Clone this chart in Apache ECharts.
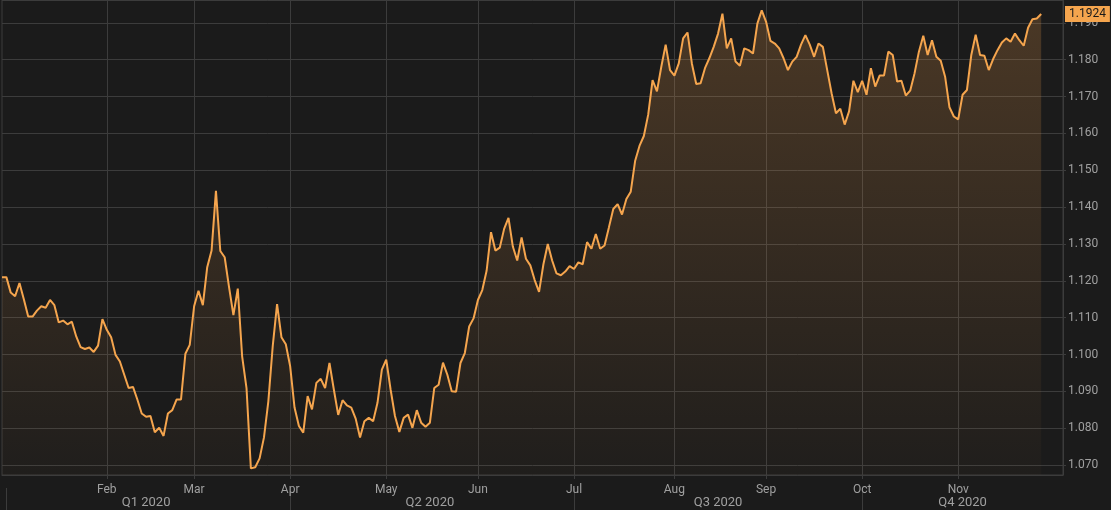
<!DOCTYPE html>
<html>
<head>
<meta charset="utf-8">
<script src="https://cdn.jsdelivr.net/npm/echarts@6/dist/echarts.min.js"></script>
<style>
html,body{margin:0;padding:0;background:#1b1b1b;}
#chart{width:1111px;height:510px;}
</style>
</head>
<body>
<div id="chart"></div>
<script>
// Daily (weekday) EUR/USD-style closes, 2019-12-31 .. 2020-11-27
const values = [
1.1210,1.1210,1.1168,1.1158,1.1194,1.1150,1.1103,1.1103,1.1119,1.1131,
1.1127,1.1148,1.1134,1.1087,1.1092,1.1082,1.1089,1.1049,1.1020,1.1015,
1.1019,1.1007,1.1024,1.1096,1.1067,1.1047,1.0999,1.0981,1.0945,1.0909,
1.0912,1.0878,1.0840,1.0831,1.0833,1.0789,1.0801,1.0779,1.0840,1.0849,
1.0878,1.0878,1.1002,1.1026,1.1131,1.1173,1.1134,1.1237,1.1282,1.1444,
1.1281,1.1264,1.1183,1.1107,1.1179,1.0995,1.0909,1.0691,1.0694,1.0718,
1.0775,1.0873,1.1022,1.1137,1.1047,1.1028,1.0968,1.0856,1.0806,1.0788,
1.0887,1.0851,1.0923,1.0934,1.0909,1.0977,1.0905,1.0836,1.0876,1.0862,
1.0856,1.0826,1.0775,1.0819,1.0828,1.0819,1.0869,1.0959,1.0986,1.0905,
1.0833,1.0790,1.0828,1.0837,1.0801,1.0849,1.0815,1.0804,1.0815,1.0909,
1.0918,1.0978,1.0945,1.0900,1.0899,1.0977,1.1004,1.1076,1.1098,1.1148,
1.1175,1.1228,1.1332,1.1282,1.1290,1.1341,1.1371,1.1293,1.1255,1.1318,
1.1260,1.1242,1.1202,1.1170,1.1245,1.1300,1.1255,1.1220,1.1215,1.1225,
1.1240,1.1232,1.1250,1.1245,1.1305,1.1287,1.1327,1.1287,1.1296,1.1345,
1.1395,1.1408,1.1380,1.1422,1.1442,1.1525,1.1566,1.1593,1.1651,1.1745,
1.1714,1.1781,1.1841,1.1772,1.1757,1.1790,1.1858,1.1874,1.1790,1.1734,
1.1736,1.1777,1.1804,1.1835,1.1871,1.1925,1.1831,1.1858,1.1795,1.1784,
1.1831,1.1826,1.1817,1.1898,1.1934,1.1903,1.1851,1.1844,1.1831,1.1804,
1.1772,1.1795,1.1808,1.1841,1.1867,1.1841,1.1808,1.1844,1.1835,1.1772,
1.1709,1.1655,1.1667,1.1624,1.1660,1.1743,1.1712,1.1743,1.1705,1.1777,
1.1727,1.1757,1.1757,1.1822,1.1813,1.1741,1.1743,1.1703,1.1716,1.1763,
1.1822,1.1865,1.1813,1.1853,1.1808,1.1797,1.1754,1.1671,1.1646,1.1638,
1.1705,1.1718,1.1813,1.1868,1.1813,1.1811,1.1772,1.1802,1.1826,1.1847,
1.1858,1.1849,1.1871,1.1853,1.1838,1.1887,1.1910,1.1912,1.1924
];

// Category axis: weekday (trading-day) dates spanning the visible window
const axisStart = [2019, 11, 31];
const axisEnd = [2020, 11, 4];
const categories = [];
for (let t = Date.UTC(...axisStart); t <= Date.UTC(...axisEnd); t += 86400000) {
  const d = new Date(t);
  const wd = d.getUTCDay();
  if (wd === 0 || wd === 6) continue;
  categories.push(d.toISOString().slice(0, 10));
}

const monthNames = ['Jan','Feb','Mar','Apr','May','Jun','Jul','Aug','Sep','Oct','Nov','Dec'];
const quarterLabels = ['Q1 2020','Q2 2020','Q3 2020','Q4 2020'];

const monthOf = s => parseInt(s.slice(5, 7), 10) - 1;

// first trading day of each month (inside the data range, Feb..Nov)
const monthStarts = [];
for (let i = 2; i < values.length; i++) {
  if (monthOf(categories[i]) !== monthOf(categories[i - 1])) monthStarts.push(i);
}
// quarter boundaries (first trading day of Jan/Apr/Jul/Oct)
const quarterStarts = [];
for (let i = 1; i < categories.length; i++) {
  const m = monthOf(categories[i]);
  if (m !== monthOf(categories[i - 1]) && m % 3 === 0) quarterStarts.push(i);
}
const qBounds = quarterStarts.concat([categories.length - 1]);
const quarterMid = {};
for (let q = 0; q < quarterStarts.length; q++) {
  quarterMid[Math.floor((qBounds[q] + qBounds[q + 1]) / 2)] = quarterLabels[q];
}
const monthSet = new Set(monthStarts);
const quarterSet = new Set(quarterStarts);

const gridColor = '#3c3c3c';
const textColor = '#a0a0a0';
const lineColor = '#f5a54e';
const fontFamily = 'Roboto, "Open Sans", sans-serif';
const lastValue = values[values.length - 1];

const chart = echarts.init(document.getElementById('chart'), null, {renderer: 'canvas'});
chart.setOption({
  backgroundColor: '#1b1b1b',
  animation: false,
  textStyle: {fontFamily: fontFamily},
  grid: {
    left: 2, right: 48, top: -2, bottom: 35,
    show: true, borderColor: gridColor, borderWidth: 1, backgroundColor: 'transparent'
  },
  xAxis: [
    {
      type: 'category',
      data: categories,
      boundaryGap: false,
      axisLine: {show: true, lineStyle: {color: gridColor}},
      axisTick: {show: true, length: 4, interval: (i) => monthSet.has(i), lineStyle: {color: gridColor}},
      axisLabel: {
        interval: (i) => monthSet.has(i),
        formatter: (v) => monthNames[monthOf(v)],
        color: textColor, fontSize: 12, margin: 9, fontFamily: fontFamily
      },
      splitLine: {show: true, interval: (i) => monthSet.has(i), lineStyle: {color: gridColor, width: 1}}
    },
    {
      type: 'category',
      data: categories,
      boundaryGap: false,
      position: 'bottom',
      offset: 13,
      axisLine: {show: false},
      axisTick: {show: true, length: 24, interval: (i) => quarterSet.has(i), lineStyle: {color: gridColor}},
      axisLabel: {
        interval: (i) => quarterMid[i] !== undefined,
        formatter: (v, i) => quarterMid[i] || '',
        color: textColor, fontSize: 13, margin: 8, fontFamily: fontFamily
      },
      splitLine: {show: false}
    }
  ],
  yAxis: {
    type: 'value',
    position: 'right',
    min: 1.067297,
    max: 1.196216,
    minInterval: 0.01,
    maxInterval: 0.01,
    axisLine: {show: true, lineStyle: {color: gridColor}},
    axisTick: {show: true, length: 3, lineStyle: {color: gridColor}},
    axisLabel: {
      showMinLabel: false, showMaxLabel: false,
      formatter: (v) => v.toFixed(3),
      color: textColor, fontSize: 12, margin: 5, fontFamily: fontFamily
    },
    splitLine: {show: true, lineStyle: {color: gridColor, width: 1}}
  },
  series: [{
    type: 'line',
    data: values,
    xAxisIndex: 0,
    showSymbol: false,
    symbol: 'none',
    clip: false,
    lineStyle: {color: lineColor, width: 2},
    itemStyle: {color: lineColor},
    areaStyle: {
      color: new echarts.graphic.LinearGradient(0, 0, 0, 1, [
        {offset: 0, color: 'rgba(245,160,75,0.31)'},
        {offset: 1, color: 'rgba(245,160,75,0.03)'}
      ])
    },
    markLine: {
      silent: true,
      symbol: 'none',
      precision: 4,
      animation: false,
      lineStyle: {color: 'rgba(0,0,0,0)', width: 1, type: 'solid'},
      label: {
        show: true,
        position: 'end',
        distance: 2,
        formatter: (p) => Number(p.value).toFixed(4),
        backgroundColor: '#f5a54e',
        color: '#1a1a1a',
        fontSize: 12,
        lineHeight: 12,
        padding: [2, 4, 2, 4],
        fontFamily: fontFamily
      },
      data: [{yAxis: lastValue}]
    }
  }]
});
</script>
</body>
</html>
